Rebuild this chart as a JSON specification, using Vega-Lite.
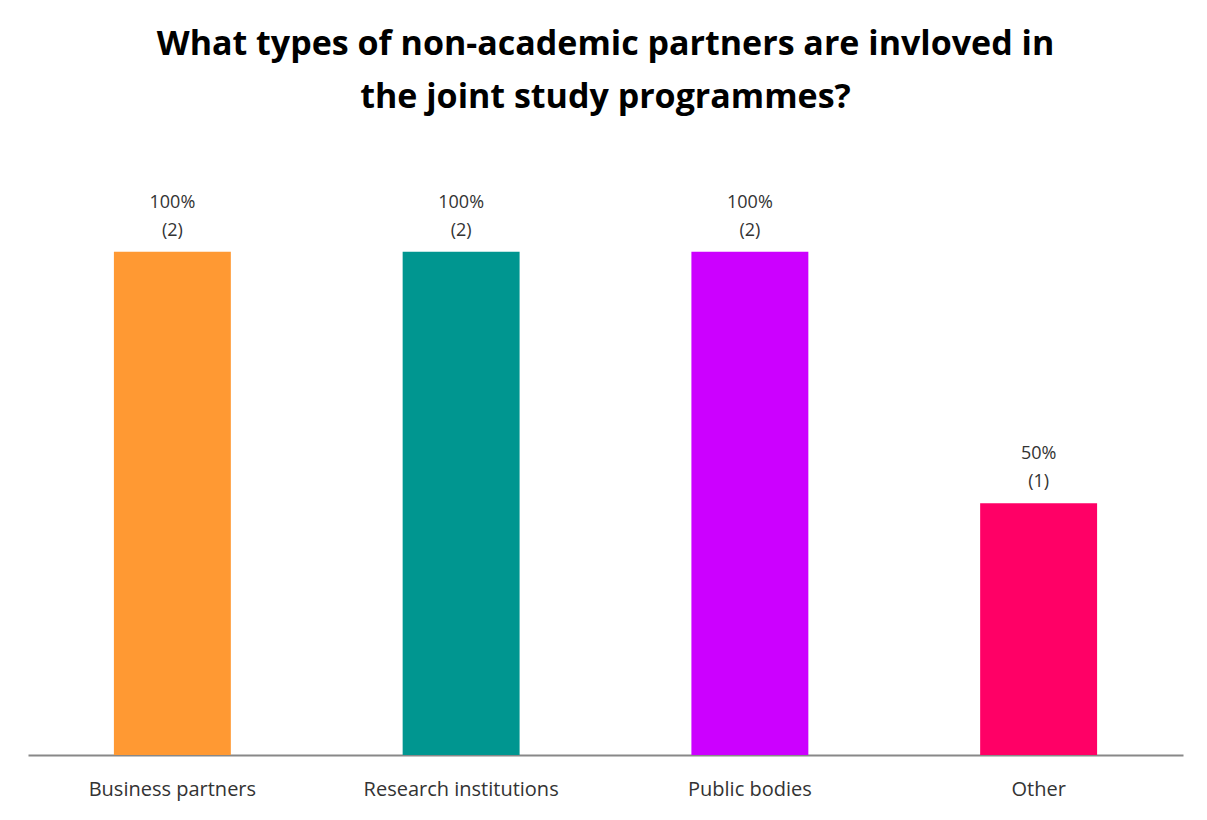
{
  "$schema": "https://vega.github.io/schema/vega-lite/v6.json",
  "width": 1155,
  "height": 604,
  "autosize": {"type": "none"},
  "padding": {"left": 28, "top": 151, "right": 24, "bottom": 65},
  "background": "white",
  "title": {
    "text": ["What types  of non-academic partners are invloved in", "the joint study programmes?"],
    "anchor": "middle",
    "frame": "group",
    "font": "Open Sans",
    "fontSize": 34,
    "fontWeight": "bold",
    "color": "#000000",
    "lineHeight": 53,
    "baseline": "bottom",
    "offset": 2
  },
  "data": {
    "values": [
      {"category": "Business partners", "share": 1.0, "label": "100%\n(2)"},
      {"category": "Research institutions", "share": 1.0, "label": "100%\n(2)"},
      {"category": "Public bodies", "share": 1.0, "label": "100%\n(2)"},
      {"category": "Other", "share": 0.5, "label": "50%\n(1)"}
    ]
  },
  "encoding": {
    "x": {
      "field": "category",
      "type": "nominal",
      "sort": null,
      "scale": {"paddingInner": 0.595, "paddingOuter": 0.2975},
      "axis": {
        "title": null,
        "labelAngle": 0,
        "labelFont": "Open Sans",
        "labelFontSize": 20,
        "labelColor": "#333333",
        "labelPadding": 24,
        "labelLimit": 400,
        "ticks": false,
        "domainColor": "#888888",
        "domainWidth": 2
      }
    },
    "y": {
      "field": "share",
      "type": "quantitative",
      "scale": {"domain": [0, 1.2], "nice": false},
      "axis": null
    }
  },
  "layer": [
    {
      "mark": {"type": "bar"},
      "encoding": {
        "color": {
          "field": "category",
          "type": "nominal",
          "sort": null,
          "scale": {"range": ["#FF9933", "#009690", "#CC00FF", "#FF0066"]},
          "legend": null
        }
      }
    },
    {
      "mark": {"type": "text", "baseline": "bottom", "dy": -40, "font": "Open Sans", "fontSize": 18, "color": "#333333", "lineBreak": "\n", "lineHeight": 28},
      "encoding": {"text": {"field": "label"}}
    }
  ],
  "config": {"view": {"stroke": null}}
}
